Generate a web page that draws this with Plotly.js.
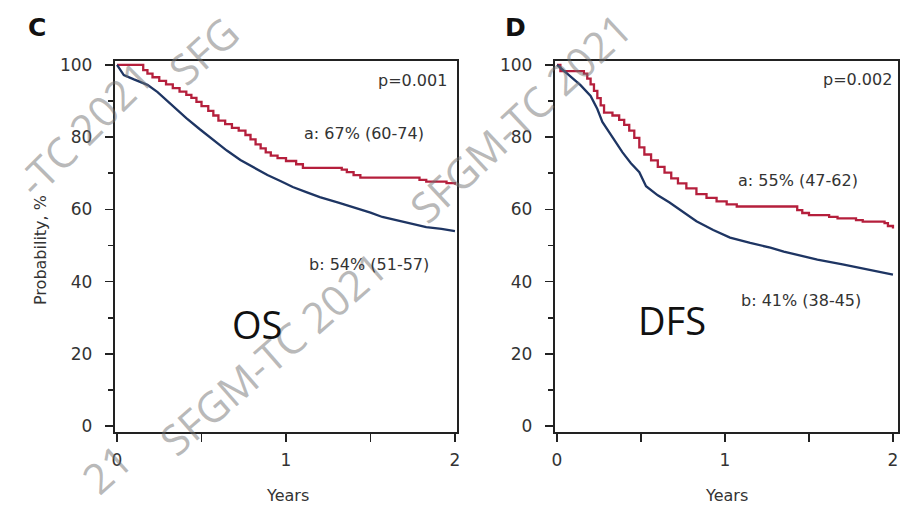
<!DOCTYPE html>
<html>
<head>
<meta charset="utf-8">
<script src="https://cdn.plot.ly/plotly-3.0.1.min.js"></script>
<style>html,body{margin:0;padding:0;background:#fff;}#chart{width:904px;height:505px;}</style>
</head>
<body>
<div id="chart"></div>
<script>
// ---------- data ----------
// Panel C: OS
const osA_t = [0, 0.155, 0.18, 0.21, 0.25, 0.29, 0.33, 0.37, 0.41, 0.44, 0.47, 0.5, 0.54, 0.57, 0.6, 0.64, 0.68, 0.72, 0.76, 0.79, 0.82, 0.85, 0.88, 0.91, 0.95, 1.0, 1.06, 1.10, 1.33, 1.36, 1.40, 1.44, 1.79, 1.83, 1.95, 2.0];
const osA_v = [100, 98.6, 97.6, 96.6, 95.6, 94.6, 93.6, 92.6, 91.7, 90.9, 89.8, 88.6, 87.3, 86.0, 84.6, 83.6, 82.6, 81.8, 80.6, 79.4, 78.0, 76.9, 75.8, 74.9, 74.2, 73.4, 72.5, 71.5, 71.0, 70.3, 69.5, 68.8, 68.2, 67.7, 67.3, 66.8];
const osB_t = [0, 0.02, 0.04, 0.1, 0.18, 0.24, 0.29, 0.35, 0.41, 0.49, 0.57, 0.65, 0.73, 0.81, 0.89, 0.97, 1.04, 1.12, 1.2, 1.31, 1.42, 1.5, 1.57, 1.7, 1.83, 1.92, 2.0];
const osB_v = [100, 98.6, 97.2, 96.0, 94.5, 92.5, 90.3, 87.8, 85.3, 82.2, 79.2, 76.3, 73.7, 71.5, 69.5, 67.8, 66.2, 64.8, 63.4, 61.9, 60.4, 59.1, 57.9, 56.4, 55.1, 54.6, 54.0];
// Panel D: DFS
const dfsA_t = [0, 0.02, 0.16, 0.18, 0.20, 0.22, 0.24, 0.26, 0.28, 0.33, 0.37, 0.40, 0.43, 0.46, 0.49, 0.52, 0.56, 0.60, 0.64, 0.68, 0.72, 0.77, 0.83, 0.89, 0.95, 1.01, 1.07, 1.43, 1.46, 1.50, 1.62, 1.67, 1.78, 1.82, 1.95, 1.97, 2.0];
const dfsA_v = [100, 98.3, 97.6, 96.2, 94.6, 92.8, 90.8, 88.8, 86.8, 86.0, 84.8, 83.4, 81.8, 79.8, 77.2, 75.2, 73.6, 71.8, 70.2, 68.6, 67.2, 65.8, 64.2, 63.2, 62.2, 61.4, 60.8, 59.8, 59.0, 58.4, 57.9, 57.5, 57.0, 56.6, 56.2, 55.4, 54.7];
const dfsB_t = [0, 0.03, 0.08, 0.14, 0.2, 0.24, 0.27, 0.31, 0.35, 0.39, 0.44, 0.49, 0.53, 0.6, 0.67, 0.75, 0.83, 0.93, 1.03, 1.15, 1.27, 1.35, 1.45, 1.55, 1.7, 1.85, 2.0];
const dfsB_v = [100, 98.8, 97.0, 94.4, 91.4, 87.8, 84.2, 81.4, 78.6, 75.8, 72.8, 70.3, 66.4, 63.9, 61.9, 59.2, 56.7, 54.3, 52.2, 50.7, 49.4, 48.3, 47.2, 46.1, 44.8, 43.3, 41.9];

const xTickVals = [0, 1, 2];
const xTickText = ["0", "1", "2"];
const yTickVals = [0, 20, 40, 60, 80, 100];
const yTickText = ["0", "20", "40", "60", "80", "100"];

const panelLetters = ["C", "D"];
const panelNames = ["OS", "DFS"];
const pValues = ["p=0.001", "p=0.002"];
const labelsA = ["a: 67% (60-74)", "a: 55% (47-62)"];
const labelsB = ["b: 54% (51-57)", "b: 41% (38-45)"];
const xTitle = "Years";
const yTitle = "Probability, %";
const watermark = "SFGM-TC 2021";
const watermarkParts = ["-TC 2021", "SFG", "21"];

// ---------- styling ----------
const RED = "#b51f3c";
const BLUE = "#1e3563";
const W = 904, H = 505;
const P = (px, py) => ({x: px / W, y: 1 - py / H});

const traces = [
  {x: osA_t, y: osA_v, xaxis: "x", yaxis: "y", mode: "lines", line: {color: RED, width: 2.3, shape: "hv"}},
  {x: osB_t, y: osB_v, xaxis: "x", yaxis: "y", mode: "lines", line: {color: BLUE, width: 2.3}},
  {x: dfsA_t, y: dfsA_v, xaxis: "x2", yaxis: "y2", mode: "lines", line: {color: RED, width: 2.3, shape: "hv"}},
  {x: dfsB_t, y: dfsB_v, xaxis: "x2", yaxis: "y2", mode: "lines", line: {color: BLUE, width: 2.3}}
];

const tickFont = {family: "DejaVu Sans", size: 17, color: "#333"};
function xAx(domain, range, anchor) {
  return {
    domain: domain, range: range, anchor: anchor,
    tickmode: "array", tickvals: xTickVals, ticktext: xTickText,
    ticks: "outside", ticklen: 8, tickwidth: 1.6, tickcolor: "#222",
    minor: {tickmode: "array", tickvals: [0.5, 1.5], ticks: "outside", ticklen: 8, tickwidth: 1.6, tickcolor: "#222"},
    showline: true, mirror: true, linecolor: "#222", linewidth: 2.2,
    showgrid: false, zeroline: false, tickfont: tickFont, ticklabelstandoff: 3, fixedrange: true
  };
}
function yAx(range, anchor) {
  return {
    domain: [1 - 432 / H, 1 - 61 / H], range: range, anchor: anchor,
    tickmode: "array", tickvals: yTickVals, ticktext: yTickText,
    ticks: "outside", ticklen: 8, tickwidth: 1.6, tickcolor: "#222",
    minor: {tickmode: "array", tickvals: [10, 30, 50, 70, 90], ticks: "outside", ticklen: 5, tickwidth: 1.6, tickcolor: "#222"},
    showline: true, mirror: true, linecolor: "#222", linewidth: 2.2,
    showgrid: false, zeroline: false, tickfont: tickFont, ticklabelstandoff: 9, fixedrange: true
  };
}

const txtFont = {family: "DejaVu Sans", size: 16, color: "#333"};
const ann = [];
function add(px, py, text, font, extra) {
  const p = P(px, py);
  ann.push(Object.assign({xref: "paper", yref: "paper", x: p.x, y: p.y, text: text, showarrow: false,
    xanchor: "center", yanchor: "middle", font: font}, extra || {}));
}

// watermarks
const wmFont = {family: "Open Sans", size: 42, color: "rgba(115,115,115,0.5)"};
add(272, 353, watermark, wmFont, {textangle: -41});
add(520, 118, watermark, wmFont, {textangle: -43});
add(84, 128, watermarkParts[0], wmFont, {textangle: -45});
add(203, 51, watermarkParts[1], wmFont, {textangle: -42});
add(106, 468, watermarkParts[2], wmFont, {textangle: -42});

// panel letters
const letterFont = {family: "DejaVu Sans", size: 25, color: "#111", weight: "bold"};
add(37, 27, "<b>" + panelLetters[0] + "</b>", letterFont);
add(515, 27, "<b>" + panelLetters[1] + "</b>", letterFont);

// p values
add(449, 80, pValues[0], txtFont, {xanchor: "right"});
add(894, 79, pValues[1], txtFont, {xanchor: "right"});
// curve labels
add(364, 133, labelsA[0], txtFont);
add(369, 264, labelsB[0], txtFont);
add(798, 180, labelsA[1], txtFont);
add(801, 300, labelsB[1], txtFont);
// panel names
const bigFont = {family: "Open Sans", size: 38, color: "#111"};
add(257, 324, panelNames[0], bigFont);
add(672, 320, panelNames[1], bigFont);
// axis titles
add(287, 495, xTitle, txtFont);
add(726, 495, xTitle, txtFont);
add(40, 250, yTitle, txtFont, {textangle: -90});

const layout = {
  width: W, height: H,
  margin: {l: 0, r: 0, t: 0, b: 0},
  paper_bgcolor: "#fff", plot_bgcolor: "#fff",
  showlegend: false,
  xaxis: xAx([115 / W, 457 / W], [-0.012, 2.012], "y"),
  yaxis: yAx([-1.66, 101.1], "x"),
  xaxis2: xAx([555 / W, 898 / W], [-0.012, 2.03], "y2"),
  yaxis2: yAx([-1.66, 101.1], "x2"),
  annotations: ann
};

Plotly.newPlot("chart", traces, layout, {displayModeBar: false, staticPlot: true});
</script>
</body>
</html>
